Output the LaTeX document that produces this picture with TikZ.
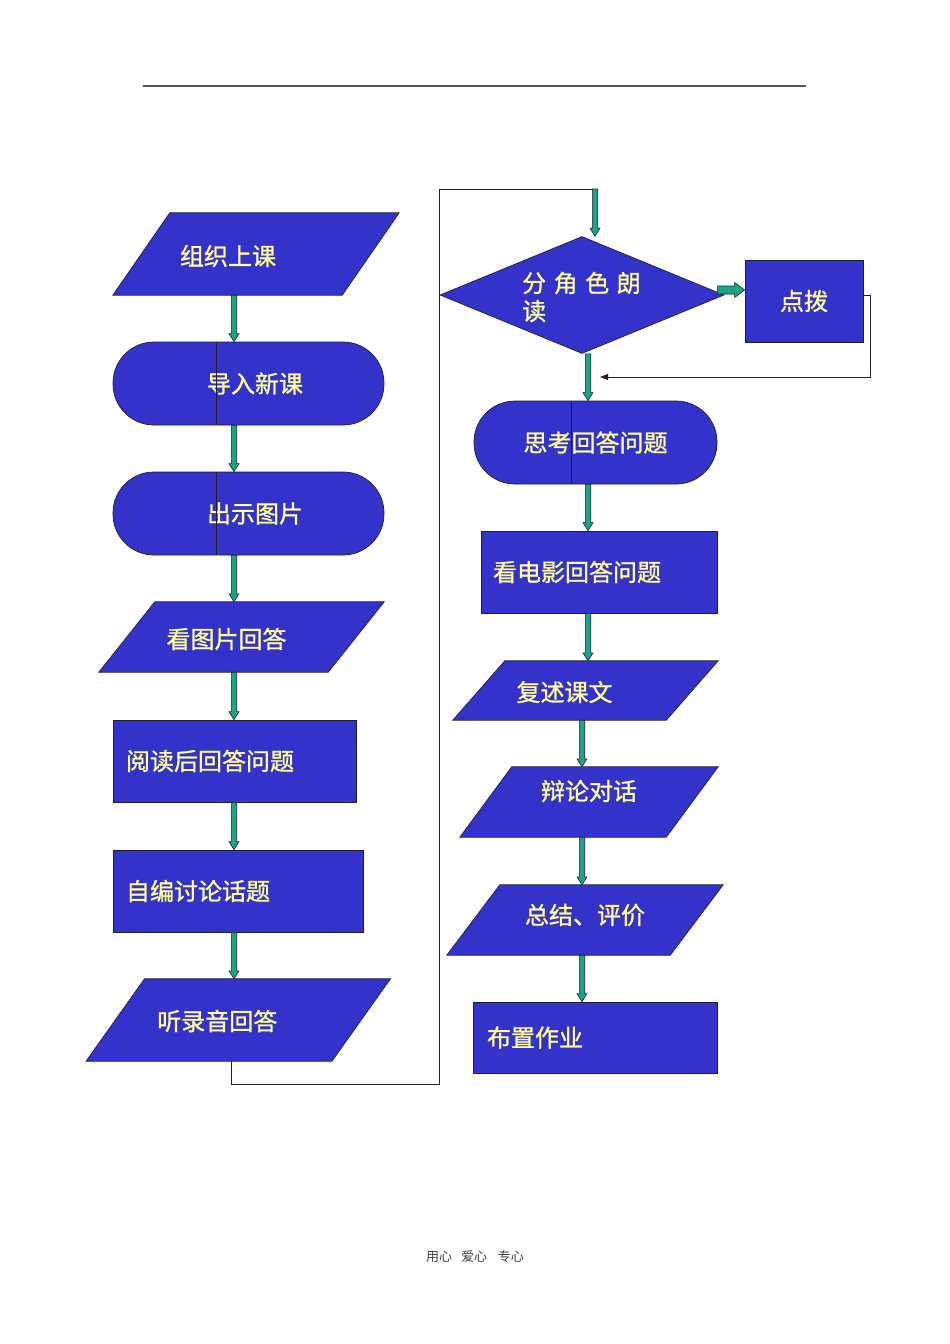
\documentclass[tikz,border=0pt]{standalone}
\usepackage{fontspec}
\setmainfont{Noto Sans CJK SC}
\newfontfamily\heavycjk[FakeBold=1.1]{Noto Sans CJK SC}
\usetikzlibrary{arrows.meta,positioning,calc,shapes.geometric}
\definecolor{boxfill}{HTML}{3333CC}
\definecolor{boxtext}{HTML}{FFFF99}
\definecolor{flowfill}{HTML}{1AA385}
\definecolor{ink}{HTML}{1F1F33}
\definecolor{mute}{HTML}{555555}

% block arrow pointing down: from, to
\newcommand{\flowdown}[2]{%
  \filldraw[flowshape] let \p1=(#1), \p2=(#2) in
    (\x1-2.7pt,\y1) -- (\x1+2.7pt,\y1) -- (\x1+2.7pt,\y2+8pt) -- (\x1+5pt,\y2+8pt)
    -- (\x1,\y2) -- (\x1-5pt,\y2+8pt) -- (\x1-2.7pt,\y2+8pt) -- cycle;
}
% wide block arrow pointing right: from, to
\newcommand{\flowright}[2]{%
  \filldraw[flowshape] let \p1=(#1), \p2=(#2) in
    (\x1,\y1+4pt) -- (\x2-10pt,\y1+4pt) -- (\x2-10pt,\y1+7.5pt) -- (\x2,\y1)
    -- (\x2-10pt,\y1-7.5pt) -- (\x2-10pt,\y1-4pt) -- (\x1,\y1-4pt) -- cycle;
}
% parallelogram: name, centre, top width, height, slant, text, text offset
\newcommand{\slantbox}[7]{%
  \node[paraframe, minimum width=#3, minimum height=#4] (#1) at #2 {};
  \filldraw[boxshape] ($(#1.north west)+(#5/2,0)$) -- ($(#1.north east)+(#5/2,0)$)
    -- ($(#1.south east)+(-#5/2,0)$) -- ($(#1.south west)+(-#5/2,0)$) -- cycle;
  \node[boxlabel] (#1t) at ($(#1.center)+#7$) {#6};
}

\begin{document}
\begin{tikzpicture}[
    x=1pt, y=-1pt,
    boxshape/.style={fill=boxfill, draw=ink, line width=0.7pt},
    boxlabel/.style={text=boxtext, inner sep=0pt, font=\heavycjk\fontsize{24}{28}\selectfont},
    rectbox/.style={rectangle, boxshape, text=boxtext, font=\heavycjk\fontsize{24}{28}\selectfont,
                    align=left, inner xsep=13pt},
    pill/.style={rectangle, boxshape, rounded corners=41pt, minimum width=#1, minimum height=83pt},
    paraframe/.style={rectangle, draw=none, inner sep=0pt},
    decision/.style={diamond, boxshape, aspect=2.43, inner sep=0pt,
                     minimum width=284pt, minimum height=117pt},
    flowshape/.style={fill=flowfill, draw=ink, line width=0.6pt},
    link/.style={draw=ink, line width=0.9pt},
    rule/.style={draw=mute, line width=1.3pt},
    footer/.style={text=black!75, font=\fontsize{13}{15}\selectfont}
  ]

\fill[white] (0,0) rectangle (950,1344);
\useasboundingbox (0,0) rectangle (950,1344);

% ---------------- page rule and footer ----------------
\draw[rule] (143,86) -- (806,86);
\node[footer] (ft) at (475,1257) {用心\hspace{9pt}爱心\hspace{11pt}专心};

% ---------------- connector axes ----------------
\coordinate (axL) at (234,0);
\coordinate (axR) at (588,0);
\coordinate (axS) at (582,0);
\coordinate (loop) at (595,189);
\coordinate (fb) at (600,377);

% ---------------- left column ----------------
\slantbox{p1}{(256,254)}{229pt}{82pt}{57}{组织上课}{(-28,2)}
\node[pill=271pt, label={[boxlabel, xshift=6.5pt]center:导入新课}] (s2) at (248.5,383.5) {};
\node[pill=271pt, label={[boxlabel, xshift=6.5pt]center:出示图片}] (s3) at (248.5,513.5) {};
\slantbox{p4}{(241.5,637)}{229pt}{70pt}{56}{看图片回答}{(-15,2)}
\node[rectbox, text width=217pt, minimum height=82pt] (s5) at (234.5,761) {阅读后回答问题};
\node[rectbox, text width=224pt, minimum height=82pt] (s6) at (238,891) {自编讨论话题};
\slantbox{p7}{(238.25,1020)}{245.5pt}{82pt}{58.5}{听录音回答}{(-21,1)}

% ---------------- right column ----------------
\node[decision] (d1) at (582,295) {};
\node[boxlabel, align=left, anchor=west] (d1t) at ($(d1.center)+(-60,2)$)
  {分\hspace{7.5pt}角\hspace{7.5pt}色\hspace{7.5pt}朗\\读};
\node[rectbox, align=center, minimum width=118pt, minimum height=82pt] (tb) at (804,301) {点拨};
\node[pill=243pt, label={[boxlabel]center:思考回答问题}] (r1) at (595.5,442.5) {};
\node[rectbox, inner xsep=12pt, text width=212pt, minimum height=82pt] (r2) at (599,572) {看电影回答问题};
\slantbox{r3}{(585.5,690.5)}{213pt}{59pt}{52}{复述课文}{(-21,1.5)}
\slantbox{r4}{(589,802)}{206pt}{70pt}{52}{辩论对话}{(0,-11)}
\slantbox{r5}{(585,920)}{223pt}{70pt}{53}{总结、评价}{(0,-5)}
\node[rectbox, inner xsep=14pt, text width=216pt, minimum height=71pt] (r6) at (595,1037.5) {布置作业};

% ---------------- divider lines in the pills ----------------
\foreach \n/\d in {s2/104,s3/104,r1/98}
  \draw[ink, line width=0.8pt] ($(\n.north west)+(\d,0)$) -- ($(\n.south west)+(\d,0)$);

% ---------------- thin connectors ----------------
\draw[link] ($(p7.south)+(-7,0)$) -- ++(0,23) -| (439,189) -- (loop);
\draw[link, -{Triangle[length=8pt,width=6pt]}] ($(tb.east)+(0,-6)$) -- ++(7,0) |- (fb);

% ---------------- block arrows ----------------
\foreach \a/\b in {p1/s2,s2/s3,s3/p4,p4/s5,s5/s6,s6/p7}
  {\flowdown{\a.south -| axL}{\b.north -| axL}}
\foreach \a/\b in {d1/r1,r1/r2,r2/r3}
  {\flowdown{\a.south -| axR}{\b.north -| axR}}
\foreach \a/\b in {r3/r4,r4/r5,r5/r6}
  {\flowdown{\a.south -| axS}{\b.north -| axS}}
\flowdown{loop}{loop |- d1.north}
\coordinate (d1r) at ($(d1.east)+(-7,-5)$);
\flowright{d1r}{d1r -| tb.west}

\end{tikzpicture}
\end{document}
